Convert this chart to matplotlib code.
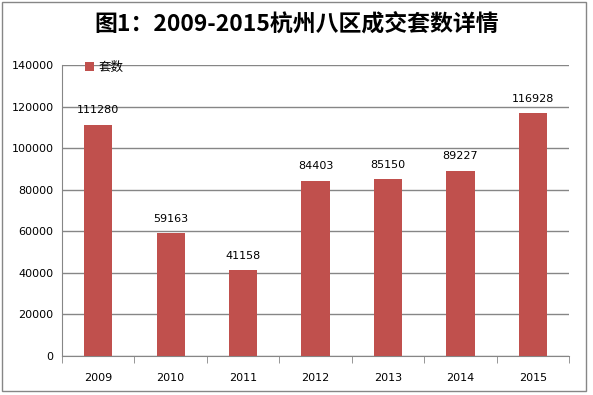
import matplotlib.pyplot as plt
from matplotlib.patches import Rectangle

plt.rcParams['font.family'] = ['Noto Sans CJK SC', 'DejaVu Sans']

YEARS = ['2009', '2010', '2011', '2012', '2013', '2014', '2015']
COUNTS = [111280, 59163, 41158, 84403, 85150, 89227, 116928]
TITLE = '图1：2009-2015杭州八区成交套数详情'
SERIES = '套数'
BAR_COLOR = '#C0504D'
GRID_COLOR = '#868686'


def main():
    fig = plt.figure(figsize=(5.93, 3.95), dpi=100)
    ax = fig.add_axes([0.1046, 0.0987, 0.855, 0.7367])

    x = range(len(YEARS))
    bars = ax.bar(x, COUNTS, width=0.39, color=BAR_COLOR, label=SERIES, zorder=3)
    for b, v in zip(bars, COUNTS):
        ax.text(b.get_x() + b.get_width() / 2, v + 4500, str(v),
                ha='center', va='bottom', fontsize=8, family='DejaVu Sans')

    ax.set_xlim(-0.5, len(YEARS) - 0.5)
    ax.set_ylim(0, 140000)
    ax.set_yticks(range(0, 140001, 20000))
    ax.set_yticklabels([str(v) for v in range(0, 140001, 20000)],
                       fontsize=8, family='DejaVu Sans')
    ax.set_xticks(list(x))
    ax.set_xticklabels(YEARS, fontsize=8, family='DejaVu Sans')
    ax.tick_params(axis='x', length=0, pad=12)
    ax.tick_params(axis='y', length=0, pad=6)
    # category separators below the axis
    ax.set_xticks([i - 0.5 for i in range(len(YEARS) + 1)], minor=True)
    ax.tick_params(axis='x', which='minor', length=5, color=GRID_COLOR,
                   direction='out')

    ax.grid(axis='y', color=GRID_COLOR, linewidth=1, zorder=0)
    for s in ['top', 'right']:
        ax.spines[s].set_visible(False)
    for s in ['left', 'bottom']:
        ax.spines[s].set_color(GRID_COLOR)

    ax.legend(loc='lower left', bbox_to_anchor=(0.045, 0.97), frameon=False,
              fontsize=9, handlelength=0.7, handleheight=0.7,
              handletextpad=0.4, borderaxespad=0, borderpad=0)

    fig.text(0.5, 0.938, TITLE, ha='center', va='center',
             fontsize=16.5, fontweight='bold')

    fig.patches.append(Rectangle((0.004, 0.01), 0.985, 0.984,
                                 transform=fig.transFigure, fill=False,
                                 edgecolor=GRID_COLOR, linewidth=1))

    fig.savefig('out.png', dpi=100)
    plt.close(fig)


if __name__ == '__main__':
    main()
